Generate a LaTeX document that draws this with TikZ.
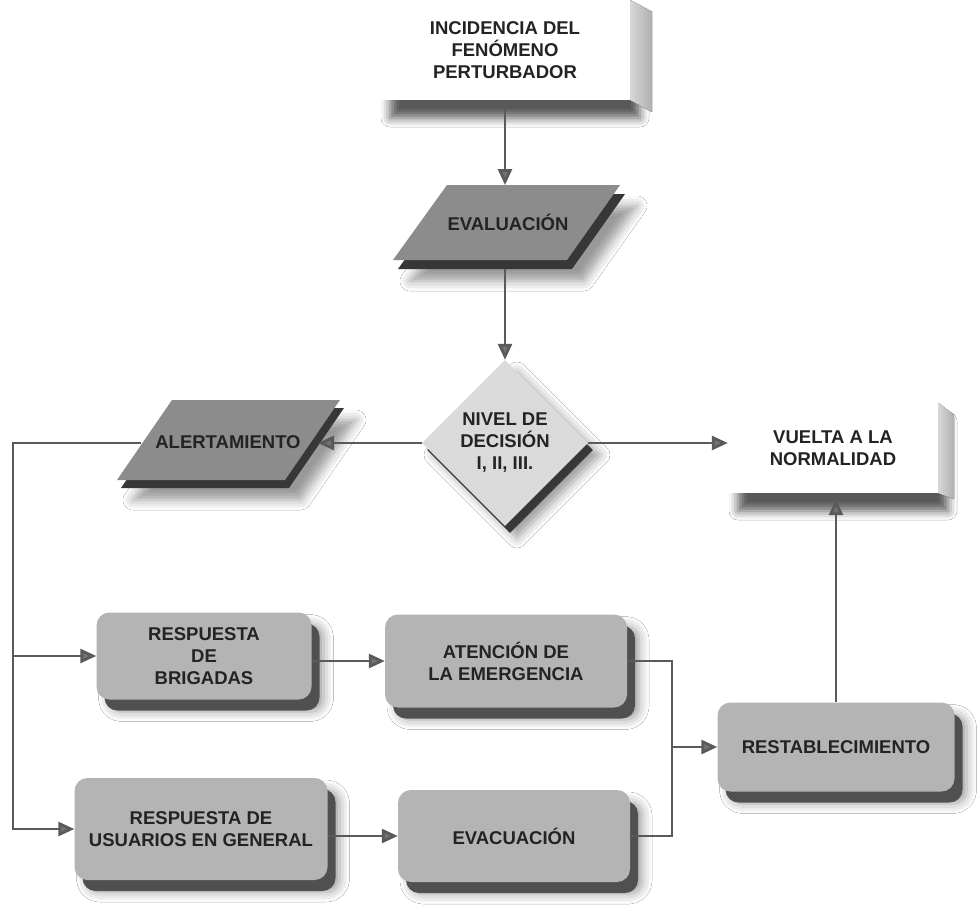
\documentclass[tikz,border=0pt]{standalone}
\usepackage{fontspec}
\setmainfont{Liberation Sans}
\usetikzlibrary{shapes.geometric,arrows.meta,shadows,shadows.blur}
\definecolor{boxc}{RGB}{180,180,180}
\definecolor{slabc}{RGB}{80,80,80}
\definecolor{parc}{RGB}{140,140,140}
\definecolor{parslab}{RGB}{55,55,55}
\definecolor{diac}{RGB}{218,218,218}
\definecolor{facel}{RGB}{215,215,215}
\definecolor{facer}{RGB}{175,175,175}
\definecolor{linec}{RGB}{90,90,90}
\definecolor{tipc}{RGB}{115,115,115}
\definecolor{textc}{RGB}{35,35,35}
\begin{document}
\begin{tikzpicture}[x=1pt,y=-1pt,
  txt/.style={font=\bfseries\fontsize{18.5}{22}\selectfont, text=textc, align=center},
  shd/.style={blur shadow={shadow xshift=12pt,shadow yshift=-12pt,shadow blur radius=10pt,shadow opacity=40}},
  rbox/.style={txt, rectangle, rounded corners=13pt, fill=boxc, inner sep=3pt, shd,
    copy shadow={shadow xshift=8pt,shadow yshift=-11pt,fill=slabc,draw=none}},
  flat/.style={txt, rectangle, fill=white, inner sep=0pt,
    blur shadow={shadow xshift=10pt,shadow yshift=-18pt,shadow blur radius=9pt,shadow opacity=65}},
  dia/.style={txt, diamond, fill=diac, inner sep=0pt, shd,
    copy shadow={shadow xshift=5pt,shadow yshift=-7pt,fill=parslab,draw=none}},
  face/.style={left color=facel, right color=facer},
  ln/.style={draw=linec, line width=2.8pt},
  arr/.style={ln, -{Triangle[length=16pt,width=14pt,fill=tipc]}}
]
\fill[white] (0,0) rectangle (977,905);
\useasboundingbox (0,0) rectangle (977,905);

% incidencia
\node[flat, minimum width=250pt, minimum height=100pt] (inc) at (505,50) {INCIDENCIA DEL\\FENÓMENO\\PERTURBADOR};
\fill[face] (inc.north east) -- ++(22,12) -- ([xshift=22pt,yshift=-12pt]inc.south east) -- (inc.south east) -- cycle;

% evaluacion
\fill[parslab, shd] (452,194) -- (625,194) -- (572,269) -- (398,269) -- cycle;
\fill[parc] (447,185) -- (620,185) -- (567,260) -- (393,260) -- cycle;
\node[txt] (eval) at (508,222) {EVALUACIÓN};
\coordinate (eval-n) at (505,185);
\coordinate (eval-s) at (505,269);

% decision
\node[dia, minimum width=166pt, minimum height=166pt] (dec) at (505,443) {NIVEL DE\\DECISIÓN\\I, II, III.};

% alertamiento
\fill[parslab, shd] (176,408) -- (344,408) -- (289,488) -- (121,488) -- cycle;
\fill[parc] (172,400) -- (340,400) -- (285,480) -- (117,480) -- cycle;
\node[txt] (alert) at (228,442) {ALERTAMIENTO};
\coordinate (alert-e) at (318,443);
\coordinate (alert-w) at (141,443);

% vuelta
\node[flat, minimum width=210pt, minimum height=90pt] (vuelta) at (833,448) {VUELTA A LA\\NORMALIDAD};
\fill[face] (vuelta.north east) -- ++(16,12) -- ([xshift=16pt,yshift=-6pt]vuelta.south east) -- (vuelta.south east) -- cycle;

% rounded boxes
\node[rbox, minimum width=215pt, minimum height=87pt] (brig) at (204,656) {RESPUESTA\\DE\\BRIGADAS};
\node[rbox, minimum width=242pt, minimum height=93pt] (aten) at (506,661) {ATENCIÓN DE\\LA EMERGENCIA};
\node[rbox, minimum width=253pt, minimum height=102pt] (usu) at (201,829) {RESPUESTA DE\\USUARIOS EN GENERAL};
\node[rbox, minimum width=232pt, minimum height=92pt] (evac) at (514,836) {EVACUACIÓN};
\node[rbox, minimum width=237pt, minimum height=89pt] (rest) at (836,747) {RESTABLECIMIENTO};

% connectors
\draw[arr] (inc.south) -- (eval-n);
\draw[arr] (eval-s) -- (dec.north);
\draw[arr] (dec.west) -- (alert-e);
\draw[arr] (dec.east) -- (dec.east -| vuelta.west);
\coordinate (lx) at (13,443);
\draw[arr] (alert-w) -- (lx) |- (usu.west);
\draw[arr] (lx |- brig.west) -- (brig.west);
\draw[arr] (brig.east |- aten.west) -- (aten.west);
\draw[arr] (usu.east |- evac.west) -- (evac.west);
\coordinate (bx) at (672,747);
\draw[ln] (aten.east) -| (bx) |- (evac.east);
\draw[arr] (bx) -- (rest.west);
\draw[arr, shorten >=6pt] (rest.north) -- (rest.north |- vuelta.south);
\end{tikzpicture}
\end{document}
